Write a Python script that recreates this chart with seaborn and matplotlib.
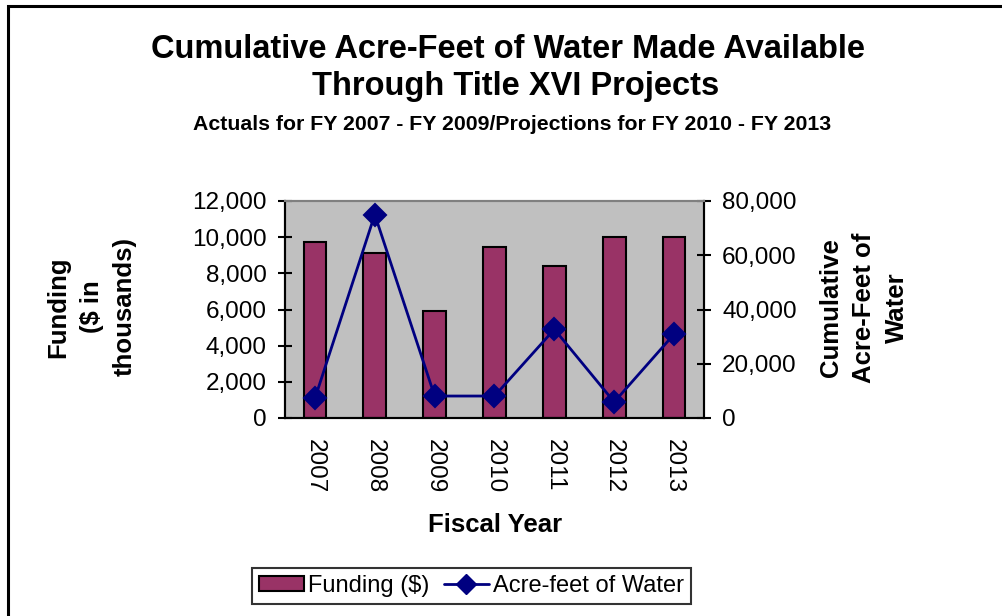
import matplotlib
matplotlib.use("Agg")
import matplotlib.pyplot as plt
import seaborn as sns
import numpy as np
from matplotlib.patches import Patch, Rectangle
from matplotlib.lines import Line2D

# ---- data ----
years = ["2007", "2008", "2009", "2010", "2011", "2012", "2013"]
funding = [9750, 9150, 5900, 9450, 8400, 10000, 10000]          # $ thousands
acre_feet = [7200, 75000, 8100, 8100, 32700, 5900, 30900]       # cumulative acre-feet
left_ticks = [0, 2000, 4000, 6000, 8000, 10000, 12000]
right_ticks = [0, 20000, 40000, 60000, 80000]

BAR = "#993366"
LINE = "#000080"

sns.set_style("white")
plt.rcParams["font.family"] = ["Liberation Sans", "DejaVu Sans"]
plt.rcParams["text.color"] = "black"
plt.rcParams["axes.labelcolor"] = "black"
plt.rcParams["xtick.color"] = "black"
plt.rcParams["ytick.color"] = "black"

W, H = 1002, 616
fig = plt.figure(figsize=(W / 100, H / 100), dpi=100)
ax = fig.add_axes([285 / W, 1 - 418 / H, (704 - 285) / W, (418 - 201) / H])
ax.set_facecolor("#C0C0C0")

sns.barplot(x=years, y=funding, ax=ax, color=BAR, saturation=1, width=0.38,
            edgecolor="black", linewidth=1.5, zorder=2)
ax.set_ylim(0, 12000)
ax.set_xlim(-0.5, 6.5)
ax.set_yticks(left_ticks)
ax.set_yticklabels([f"{v:,}" for v in left_ticks], fontsize=17.5)
ax.set_xticks(np.arange(len(years)) + 0.5, minor=False)
ax.set_xticklabels([])
ax.set_xticks(np.arange(len(years)), minor=True)
ax.set_xticklabels(years, minor=True, rotation=270, fontsize=17.5, ha="center", va="top")
ax.tick_params(axis="x", which="major", direction="inout", length=10, width=1.5, colors="black")
ax.tick_params(axis="x", which="minor", length=0, pad=15, colors="black")
ax.tick_params(axis="y", direction="inout", length=10, width=1.5, pad=8, colors="black")
ax.set_xlabel("")
ax.set_ylabel("")
for s in ["left", "bottom", "right"]:
    ax.spines[s].set_color("black")
    ax.spines[s].set_linewidth(1.5)
ax.spines["top"].set_color("#808080")
ax.spines["top"].set_linewidth(1.5)

ax2 = ax.twinx()
sns.pointplot(x=years, y=acre_feet, ax=ax2, color=LINE, markers="D",
              linestyles="-", markersize=11, linewidth=2)
ax2.set_xlim(-0.5, 6.5)
ax2.set_ylim(0, 80000)
ax2.set_yticks(right_ticks)
ax2.set_yticklabels([f"{v:,}" for v in right_ticks], fontsize=17.5)
ax2.tick_params(axis="y", direction="inout", length=10, width=1.5, pad=8, colors="black")
ax2.set_ylabel("")
ax2.set_xlabel("")
for s in ["left", "bottom", "right"]:
    ax2.spines[s].set_color("black")
    ax2.spines[s].set_linewidth(1.5)
ax2.spines["top"].set_color("#808080")
ax2.spines["top"].set_linewidth(1.5)

# ---- titles ----
fig.text(0.507, 1 - 58.5 / H, "Cumulative Acre-Feet of Water Made Available",
         ha="center", va="baseline", fontsize=23.5, fontweight="bold")
fig.text(0.515, 1 - 95 / H, "Through Title XVI Projects",
         ha="center", va="baseline", fontsize=23.5, fontweight="bold")
fig.text(0.511, 1 - 130 / H,
         "Actuals for FY 2007 - FY 2009/Projections for FY 2010 - FY 2013",
         ha="center", va="baseline", fontsize=15.3, fontweight="bold")

# ---- axis labels ----
fig.text(495 / W, 1 - 532 / H, "Fiscal Year", ha="center", va="baseline",
         fontsize=18.5, fontweight="bold")
fig.text(91.7 / W, 1 - 307 / H, "Funding\n($ in\nthousands)", rotation=90,
         ha="center", va="center", multialignment="center", fontsize=18.5,
         fontweight="bold", linespacing=1.48)
fig.text(864 / W, 1 - 308 / H, "Cumulative\nAcre-Feet of\nWater", rotation=90,
         ha="center", va="center", multialignment="center", fontsize=18.5,
         fontweight="bold", linespacing=1.45)

# ---- legend ----
handles = [Patch(facecolor=BAR, edgecolor="black", linewidth=1.5, label="Funding ($)"),
           Line2D([], [], color=LINE, marker="D", markersize=10, linewidth=2,
                  label="Acre-feet of Water")]
leg = fig.legend(handles=handles, loc="center", bbox_to_anchor=(471.5 / W, 1 - 586 / H),
                 ncol=2, frameon=True, fancybox=False, edgecolor="black",
                 fontsize=17, handlelength=1.9, handleheight=0.6, handletextpad=0.2,
                 columnspacing=0.6, borderpad=0.3, borderaxespad=0)
leg.get_frame().set_linewidth(1.5)
for t in leg.get_texts():
    t.set_color("black")

# ---- figure border ----
fig.patches.append(Rectangle((7.5 / W, -0.05), 1.1, 1 - 6.5 / H + 0.05,
                             transform=fig.transFigure, fill=False,
                             edgecolor="black", linewidth=2.2, clip_on=False))

fig.savefig("out.png", dpi=100)
